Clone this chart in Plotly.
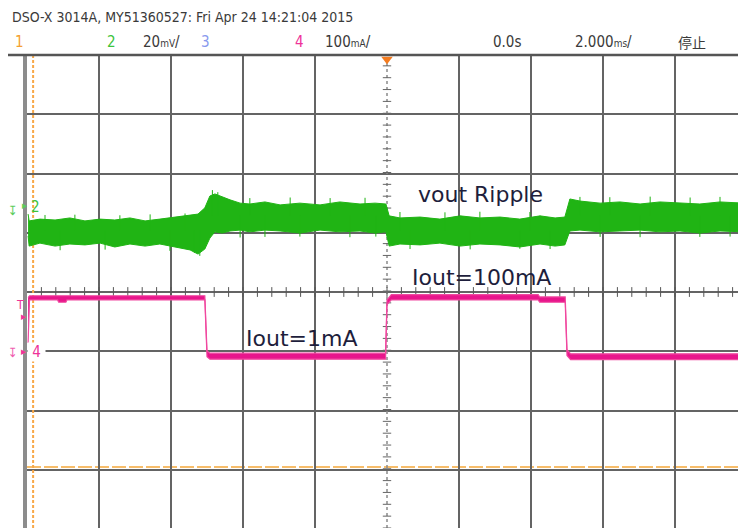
import plotly.graph_objects as go

# ---------------- data ----------------
HEADER = "DSO-X 3014A, MY51360527: Fri Apr 24 14:21:04 2015"
TIMEBASE = "2.000ms/"      # 2 ms per division
CH2_SCALE = 20             # mV / div
CH4_SCALE = 100            # mA / div
CH2_OFFSET_DIV = 1.435     # ground marker of channel 2 (divisions above centre)
CH4_OFFSET_DIV = -1.013    # ground marker of channel 4
CH1_LEVEL_DIV = -2.954     # orange channel-1 line
CURSOR_T = -9.83           # orange dashed vertical cursor (ms)

# Channel 2 (vout ripple) envelope, ms / mV
vout_t = [-9.97, -9.94, -9.64, -9.22, -8.81, -8.39, -7.97, -7.56, -7.14, -6.72,
          -6.31, -5.89, -5.47, -5.25, -5.06, -4.92, -4.78, -4.58, -4.36, -4.08,
          -3.81, -3.39, -2.97, -2.42, -1.86, -1.31, -0.75, -0.33, -0.03, 0.06,
          0.36, 0.92, 1.47, 2.03, 2.58, 3.14, 3.69, 4.25, 4.67, 4.94,
          5.08, 5.36, 5.92, 6.47, 7.03, 7.58, 8.14, 8.69, 9.25, 9.9]
vout_hi = [-2.4, -4.7, -4.1, -4.4, -3.7, -4.7, -4.1, -4.4, -3.7, -4.7,
           -4.1, -3.4, -2.7, -2.4, -0.3, 3.7, 4.4, 3.4, 2.4, 1.3,
           1.0, 1.7, 0.7, 1.3, 0.7, 1.7, 1.0, 1.3, 1.0, -3.0,
           -3.7, -3.4, -4.1, -3.0, -3.7, -3.4, -4.1, -3.0, -3.7, -3.4,
           2.7, 2.0, 1.3, 1.7, 1.0, 1.7, 1.3, 1.0, 1.7, 1.3]
vout_lo = [-9.8, -13.2, -12.2, -13.2, -12.5, -12.8, -12.2, -13.5, -12.5, -13.2,
           -12.5, -13.5, -14.5, -15.9, -14.2, -10.5, -8.4, -8.8, -8.1, -7.8,
           -8.4, -7.8, -8.1, -8.8, -7.8, -8.4, -8.1, -8.8, -8.4, -13.2,
           -12.5, -12.8, -12.2, -13.2, -12.5, -12.8, -13.5, -12.5, -13.2, -12.8,
           -8.1, -7.8, -8.4, -8.1, -7.8, -8.4, -8.1, -8.8, -8.1, -8.4]

# Individual noise spikes on channel 2 (ms, low mV, high mV)
spike_t = [-9.5, -9.08, -8.67, -7.83, -7.42, -6.58, -6.03, -5.61, -5.35, -5.2,
           -4.85, -4.7, -4.08, -3.81, -3.39, -2.69, -2.42, -1.58, -1.03, -0.61,
           -0.31, 0.36, 0.64, 1.61, 2.31, 2.58, 3.69, 3.97, 4.53, 5.36,
           5.92, 6.19, 7.03, 7.31, 8.42, 8.69, 9.25, 9.53]
spike_lo = [-8, -14.6, -8, -14.4, -8, -8, -14.8, -8, -15.5, -16.5,
            -3, -3, -10.3, -3, -10.1, -3, -10.0, -3, -10.2, -3,
            -10.0, -8, -14.2, -8, -14.3, -8, -14.1, -8, -14.2, -3,
            -10.1, -3, -10.2, -3, -3, -10.1, -3, -10.0]
spike_hi = [-2.7, -8, -2.6, -8, -2.8, -2.5, -8, -2.2, -8, -8,
            5.7, 5.0, -3, 3.0, -3, 3.2, -3, 3.0, -3, 3.1,
            -3, -1.7, -8, -1.8, -8, -1.6, -8, -1.7, -8, 3.4,
            -3, 3.3, -3, 3.5, 3.2, -3, 3.4, -3]

# Channel 4 (output current) envelope, ms / mA
iout_t = [-9.97, -9.93, -9.15, -9.12, -8.92, -8.89, -5.1, -5.06, -5.0, -4.92,
          -0.04, 0.0, 0.12, 4.2, 4.24, 4.95, 5.0, 5.1, 9.9]
iout_hi = [92, 95, 95, 95, 95, 95, 95, 95, 2, -2,
           -2, 88, 97, 97, 93, 93, 4, -3, -3]
iout_lo = [15, 88, 88, 84, 84, 88, 88, 88, -8, -12,
           -12, 80, 88, 88, 84, 84, -6, -13, -13]

# ---------------- layout geometry ----------------
W, H = 738, 528
L, T = 27, 55
PX_DIV_X, PX_DIV_Y = 72, 59.25
MS_PER_DIV = 2.0
X_MIN = -10.0
X_MAX = X_MIN + (W - L) / PX_DIV_X * MS_PER_DIV
Y_MAX = 4.0
Y_MIN = Y_MAX - (H - T) / PX_DIV_Y


def px_x(px):
    return (px - L) / (W - L)


def px_y(py):
    return (H - py) / (H - T)


GREEN = "#20b414"
PINK = "#e8168c"
PINK_EDGE = "#f0489f"
NARROW = "DejaVu Sans Condensed, Liberation Sans Narrow, DejaVu Sans, sans-serif"

fig = go.Figure()

# centre tick marks
fig.add_trace(go.Scatter(
    x=[X_MIN + 0.4 * i for i in range(1, 50)], y=[0] * 49,
    mode="markers", hoverinfo="skip", showlegend=False,
    marker=dict(symbol="line-ns", size=7, line=dict(width=1, color="#555"))))
fig.add_trace(go.Scatter(
    x=[0] * 40, y=[Y_MIN + 0.2 * i for i in range(0, 40)],
    mode="markers", hoverinfo="skip", showlegend=False,
    marker=dict(symbol="line-ew", size=6, line=dict(width=1, color="#666"))))

# channel 2 envelope
fig.add_trace(go.Scatter(x=vout_t, y=vout_lo, yaxis="y2", mode="lines",
                         line=dict(color=GREEN, width=1), showlegend=False))
fig.add_trace(go.Scatter(x=vout_t, y=vout_hi, yaxis="y2", mode="lines",
                         line=dict(color=GREEN, width=1), fill="tonexty",
                         fillcolor=GREEN, showlegend=False))
sx, sy = [], []
for t, lo, hi in zip(spike_t, spike_lo, spike_hi):
    sx += [t, t, None]
    sy += [lo, hi, None]
fig.add_trace(go.Scatter(x=sx, y=sy, yaxis="y2", mode="lines",
                         line=dict(color=GREEN, width=1), showlegend=False))

# channel 4 envelope
fig.add_trace(go.Scatter(x=iout_t, y=iout_lo, yaxis="y3", mode="lines",
                         line=dict(color=PINK_EDGE, width=1.2), showlegend=False))
fig.add_trace(go.Scatter(x=iout_t, y=iout_hi, yaxis="y3", mode="lines",
                         line=dict(color=PINK_EDGE, width=1.2), fill="tonexty",
                         fillcolor=PINK, showlegend=False))

# trigger position marker
fig.add_trace(go.Scatter(x=[0], y=[3.93], mode="markers", cliponaxis=False,
                         marker=dict(symbol="triangle-down", size=10, color="#f47c20"),
                         showlegend=False))

shapes = [
    dict(type="line", xref="x", yref="y", x0=0, x1=0, y0=Y_MIN, y1=Y_MAX,
         line=dict(color="#8a8a8a", width=1.5, dash="dot"), layer="between"),
    dict(type="line", xref="x", yref="y", x0=CURSOR_T, x1=CURSOR_T, y0=Y_MIN, y1=Y_MAX,
         line=dict(color="#f8a848", width=2, dash="3px,2px"), layer="between"),
    dict(type="line", xref="paper", yref="y", x0=0, x1=1, y0=CH1_LEVEL_DIV, y1=CH1_LEVEL_DIV,
         line=dict(color="#f7bd6a", width=2, dash="14px,3px"), layer="between"),
    dict(type="line", xref="paper", yref="paper", x0=px_x(8), x1=1, y0=1, y1=1,
         line=dict(color="#555", width=2.5), layer="above"),
]

ann = []


def txt(text, x, y, color="#333", size=16, family=NARROW, xanchor="left", bg=None):
    d = dict(text=text, x=px_x(x), y=px_y(y), xref="paper", yref="paper",
             xanchor=xanchor, yanchor="middle", showarrow=False,
             font=dict(color=color, size=size, family=family))
    if bg:
        d["bgcolor"] = bg
        d["borderpad"] = 0
    ann.append(d)


# header
txt(HEADER, 10, 17, color="#3a3a3a", size=14)
txt("1", 13, 42, color="#f5a030", size=15)
txt("2", 105, 42, color="#3cc43c", size=15)
txt("20<span style='font-size:10px'>mV</span>/", 141, 42, color="#3a3a3a", size=15)
txt("3", 199, 42, color="#8899ee", size=15)
txt("4", 293, 42, color="#ee3399", size=15)
txt("100<span style='font-size:10px'>mA</span>/", 323, 42, color="#3a3a3a", size=15)
txt("0.0s", 491, 42, color="#3a3a3a", size=15)
txt("2.000<span style='font-size:10px'>ms</span>/", 573, 42, color="#3a3a3a", size=15)
txt("停止", 676, 42, color="#3a3a3a", size=14, family="Noto Sans CJK SC")

# channel markers on the left
txt("↧", 13, 210, color="#5ccc5c", size=13, xanchor="center")
txt("▸", 24, 206, color="#5ccc5c", size=11, xanchor="center")
txt("2", 35, 207, color="#3cc43c", size=15, xanchor="center")
txt("T", 20, 305, color="#ee3399", size=12, xanchor="center")
txt("▸", 23, 316, color="#ee3399", size=11, xanchor="center")
txt("↧", 13, 352, color="#f060b0", size=13, xanchor="center")
txt("▸", 23, 351, color="#ee3399", size=11, xanchor="center")
txt(" 4 ", 36, 352, color="#ee3399", size=15, xanchor="center", bg="white")

# chart annotations
BODY = "DejaVu Sans, Verdana, sans-serif"
txt("vout Ripple", 480, 194, color="#1e1e3c", size=22, family=BODY, xanchor="center")
txt("Iout=100mA", 481, 277, color="#1e1e3c", size=22, family=BODY, xanchor="center")
txt("Iout=1mA", 301, 338, color="#1e1e3c", size=22, family=BODY, xanchor="center")

grid_x = [v for v in range(-8, 10, 2) if v != 0]
fig.update_layout(
    width=W, height=H,
    margin=dict(l=L, r=0, t=T, b=0, pad=0, autoexpand=False),
    paper_bgcolor="white", plot_bgcolor="white",
    showlegend=False, shapes=shapes, annotations=ann,
    xaxis=dict(range=[X_MIN, X_MAX], tickvals=grid_x, showticklabels=False,
               ticks="", showgrid=True, gridcolor="#646464", gridwidth=2,
               zeroline=False, showline=False, fixedrange=True, automargin=False),
    yaxis=dict(range=[Y_MIN, Y_MAX], tickvals=[-3, -2, -1, 0, 1, 2, 3],
               showticklabels=False, ticks="", showgrid=True,
               gridcolor="#646464", gridwidth=2, zeroline=False,
               showline=True, linecolor="#8c8c8c", linewidth=4,
               layer="below traces", fixedrange=True, automargin=False),
    yaxis2=dict(overlaying="y", visible=False, automargin=False,
                range=[(Y_MIN - CH2_OFFSET_DIV) * CH2_SCALE,
                       (Y_MAX - CH2_OFFSET_DIV) * CH2_SCALE]),
    yaxis3=dict(overlaying="y", visible=False, automargin=False,
                range=[(Y_MIN - CH4_OFFSET_DIV) * CH4_SCALE,
                       (Y_MAX - CH4_OFFSET_DIV) * CH4_SCALE]),
)

fig.write_html("out.html", config={"displayModeBar": False},
               post_script="document.body.style.margin='0';")
